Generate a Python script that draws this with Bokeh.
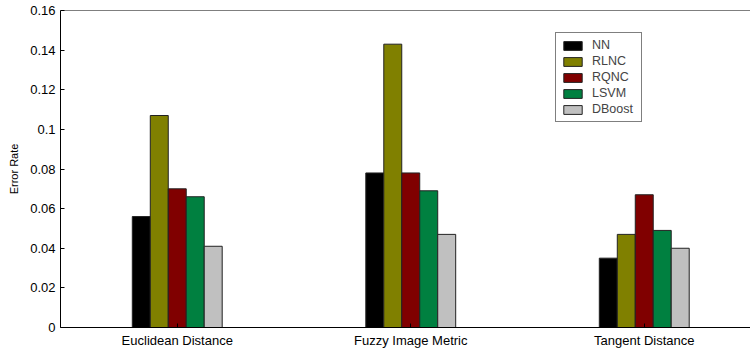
from bokeh.plotting import figure
from bokeh.models import FixedTicker, Range1d, Span, Legend, LegendItem, ColumnDataSource
from bokeh.embed import file_html
from bokeh.resources import INLINE

categories = ["Euclidean Distance", "Fuzzy Image Metric", "Tangent Distance"]
methods = ["NN", "RLNC", "RQNC", "LSVM", "DBoost"]
nn = [0.056, 0.078, 0.035]
rlnc = [0.107, 0.143, 0.047]
rqnc = [0.070, 0.078, 0.067]
lsvm = [0.066, 0.069, 0.049]
dboost = [0.041, 0.047, 0.040]
colors = ["#000000", "#808000", "#800000", "#008040", "#c0c0c0"]
y_ticks = [0, 0.02, 0.04, 0.06, 0.08, 0.1, 0.12, 0.14, 0.16]
y_tick_labels = ["0", "0.02", "0.04", "0.06", "0.08", "0.1", "0.12", "0.14", "0.16"]

series = [nn, rlnc, rqnc, lsvm, dboost]
FONT = "Liberation Sans"

p = figure(width=750, height=350, output_backend="svg", toolbar_location=None,
           x_range=Range1d(0.5, 3.455), y_range=Range1d(0, 0.16),
           min_border_left=60, min_border_top=10, min_border_right=0, min_border_bottom=22)
p.outline_line_color = None
p.xgrid.visible = False
p.ygrid.visible = False
p.background_fill_color = "white"
p.border_fill_color = "white"

bw = 0.077
items = []
groups = list(range(1, len(categories) + 1))
for k, (name, vals, col) in enumerate(zip(methods, series, colors)):
    xs = [g + (k - 2) * bw for g in groups]
    src = ColumnDataSource(dict(x=xs, top=vals))
    r = p.vbar(x="x", top="top", bottom=0, width=bw, source=src,
               fill_color=col, line_color="#222222", line_width=1)
    items.append(LegendItem(label=name, renderers=[r]))

legend = Legend(items=items, location=(495, 205), glyph_width=23, glyph_height=11,
                label_height=12, label_width=44, spacing=2, padding=5, margin=0,
                label_standoff=8,
                label_text_font=FONT, label_text_font_size="12.5px",
                border_line_color="black", border_line_width=1,
                background_fill_alpha=1.0)
p.add_layout(legend, "center")

# x axis
p.xaxis.ticker = FixedTicker(ticks=groups)
p.xaxis.major_label_overrides = {g: c for g, c in zip(groups, categories)}
p.xaxis.major_tick_in = 4
p.xaxis.major_tick_out = 0
p.xaxis.minor_tick_line_color = None
p.xaxis.major_label_text_font = FONT
p.xaxis.major_label_text_font_size = "13px"
p.xaxis.major_label_text_color = "black"
p.xaxis.major_label_standoff = 5
p.xaxis.axis_line_color = "black"

# y axis
p.yaxis.ticker = FixedTicker(ticks=y_ticks)
p.yaxis.major_label_overrides = {t: l for t, l in zip(y_ticks, y_tick_labels)}
p.yaxis.major_tick_in = 4
p.yaxis.major_tick_out = 0
p.yaxis.minor_tick_line_color = None
p.yaxis.major_label_text_font = FONT
p.yaxis.major_label_text_font_size = "13px"
p.yaxis.major_label_text_color = "black"
p.yaxis.major_label_standoff = 5
p.yaxis.axis_label = "Error Rate"
p.yaxis.axis_label_text_font = FONT
p.yaxis.axis_label_text_font_size = "11px"
p.yaxis.axis_label_text_font_style = "normal"
p.yaxis.axis_label_text_color = "black"
p.yaxis.axis_label_standoff = 7
p.yaxis.axis_line_color = "black"

# top border line
p.add_layout(Span(location=0.16, dimension="width", line_color="black", line_width=1))

open("out.html", "w").write(file_html(p, INLINE))
